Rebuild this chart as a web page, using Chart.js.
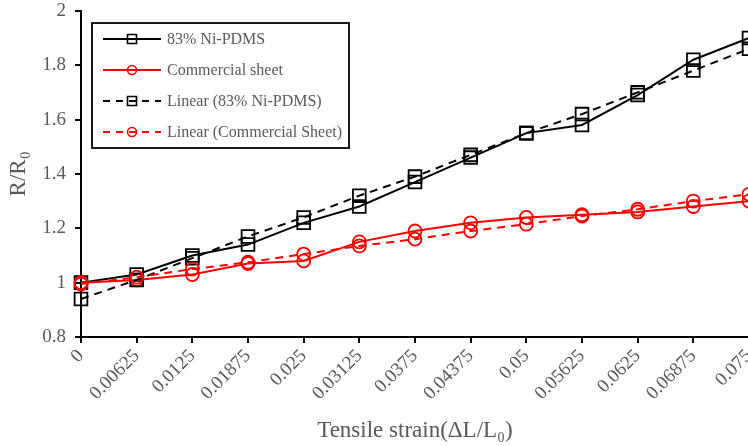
<!DOCTYPE html>
<html>
<head>
<meta charset="utf-8">
<script src="https://cdn.jsdelivr.net/npm/chart.js@4/dist/chart.umd.min.js"></script>
<style>
  html, body { margin: 0; padding: 0; background: #fff; overflow: hidden; }
  #wrap { width: 748px; height: 446px; }
</style>
</head>
<body>
<div id="wrap"><canvas id="c" width="748" height="446"></canvas></div>
<script>
// Tensile strain categories
const strains = ['0', '0.00625', '0.0125', '0.01875', '0.025', '0.03125', '0.0375',
                 '0.04375', '0.05', '0.05625', '0.0625', '0.06875', '0.075'];

// R/R0 measurements
const niPdms = [1.00, 1.03, 1.10, 1.14, 1.22, 1.28, 1.37, 1.46, 1.55, 1.58, 1.69, 1.82, 1.90];
const commercial = [1.00, 1.01, 1.03, 1.07, 1.08, 1.15, 1.19, 1.22, 1.24, 1.25, 1.26, 1.28, 1.30];

// Linear trend values
const niPdmsLinear = [0.94, 1.01, 1.09, 1.17, 1.24, 1.32, 1.39, 1.47, 1.55, 1.62, 1.70, 1.78, 1.86];
const commercialLinear = [0.995, 1.02, 1.05, 1.075, 1.105, 1.135, 1.16, 1.19, 1.215, 1.245, 1.27, 1.30, 1.325];

// Y axis range
const yMin = 0.8, yMax = 2, yStep = 0.2;

const seriesNames = ['83% Ni-PDMS', 'Commercial sheet', 'Linear (83% Ni-PDMS)', 'Linear (Commercial Sheet)'];

const FONT = "'Liberation Serif', 'Times New Roman', serif";
const TEXT = '#595959';
const PLOT_RIGHT = 749;

function series(label, data, color, shape, dashed, order) {
  return {
    label, data,
    borderColor: color,
    backgroundColor: 'rgba(0,0,0,0)',
    borderWidth: 2,
    borderDash: dashed ? [8, 6] : [],
    pointStyle: shape,
    pointRadius: shape === 'rect' ? 9 : 6.5,
    pointBorderWidth: 1.8,
    pointBorderColor: color,
    pointBackgroundColor: 'rgba(0,0,0,0)',
    tension: 0,
    clip: false,
    order
  };
}

// Let the category axis run all the way to the right edge of the canvas
const stretchX = {
  id: 'stretchX',
  afterLayout(chart) {
    const xs = chart.scales.x;
    chart.chartArea.right = PLOT_RIGHT;
    chart.chartArea.width = PLOT_RIGHT - chart.chartArea.left;
    xs.right = PLOT_RIGHT;
    xs.width = PLOT_RIGHT - xs.left;
    xs.configure();
    xs._labelItemsCache = null;
    xs._gridLineItems = null;
  }
};

// Boxed legend drawn inside the plot area
const boxLegend = {
  id: 'boxLegend',
  afterDraw(chart) {
    const ctx = chart.ctx;
    const x0 = 92, y0 = 23, w = 257, h = 125;
    ctx.save();
    ctx.fillStyle = '#fff';
    ctx.fillRect(x0, y0, w, h);
    ctx.strokeStyle = '#000';
    ctx.lineWidth = 1.8;
    ctx.strokeRect(x0, y0, w, h);
    const rows = [39, 70, 101, 132];
    const items = [
      { color: '#000', shape: 'rect', dashed: false },
      { color: '#ff0000', shape: 'circle', dashed: false },
      { color: '#000', shape: 'rect', dashed: true },
      { color: '#ff0000', shape: 'circle', dashed: true }
    ];
    items.forEach((it, i) => {
      const y = rows[i];
      ctx.strokeStyle = it.color;
      ctx.lineWidth = 2;
      ctx.setLineDash(it.dashed ? [7, 6] : []);
      ctx.beginPath();
      ctx.moveTo(103, y);
      ctx.lineTo(161, y);
      ctx.stroke();
      ctx.setLineDash([]);
      ctx.lineWidth = 1.6;
      ctx.beginPath();
      if (it.shape === 'rect') {
        ctx.rect(132 - 4.5, y - 4.5, 9, 9);
      } else {
        ctx.arc(132, y, 4.5, 0, Math.PI * 2);
      }
      ctx.stroke();
      ctx.fillStyle = TEXT;
      ctx.font = '16px ' + FONT;
      ctx.textBaseline = 'middle';
      ctx.textAlign = 'left';
      ctx.fillText(seriesNames[i], 167, y + 1);
    });
    ctx.restore();
  }
};

new Chart(document.getElementById('c'), {
  type: 'line',
  data: {
    labels: strains,
    datasets: [
      series(seriesNames[0], niPdms, '#000', 'rect', false, 3),
      series(seriesNames[1], commercial, '#ff0000', 'circle', false, 2),
      series(seriesNames[2], niPdmsLinear, '#000', 'rect', true, 1),
      series(seriesNames[3], commercialLinear, '#ff0000', 'circle', true, 0)
    ]
  },
  options: {
    responsive: false,
    animation: false,
    devicePixelRatio: 1,
    layout: { padding: { left: 0, right: 0, top: 10, bottom: 0 } },
    plugins: { legend: { display: false }, tooltip: { enabled: false } },
    scales: {
      x: {
        type: 'category',
        offset: false,
        grid: { display: true, drawOnChartArea: false, drawTicks: true, tickLength: 6, color: '#000', lineWidth: 2 },
        border: { display: true, color: '#000', width: 2 },
        ticks: {
          autoSkip: false, minRotation: 45, maxRotation: 45, padding: 2,
          color: TEXT, font: { family: FONT, size: 19 }
        },
        title: {
          display: true, text: 'Tensile strain(\u0394L/L\u2080)', color: TEXT,
          font: { family: FONT, size: 23 }, padding: { top: 0, bottom: 1 }
        },
        afterFit(scale) {
          scale.height = 109;
          scale.paddingLeft = 0;
          scale.paddingRight = 0;
        }
      },
      y: {
        min: yMin, max: yMax,
        grid: { display: true, drawOnChartArea: false, drawTicks: true, tickLength: 6, color: '#000', lineWidth: 2 },
        border: { display: true, color: '#000', width: 2 },
        ticks: {
          stepSize: yStep, padding: 9, color: TEXT,
          font: { family: FONT, size: 19 },
          callback: v => String(+v.toFixed(1))
        },
        title: {
          display: true, text: 'R/R\u2080', color: TEXT,
          font: { family: FONT, size: 23 }, padding: { top: 5, bottom: 0 }
        },
        afterFit(scale) {
          scale.width = 81;
          scale.paddingTop = 0;
          scale.paddingBottom = 0;
        }
      }
    }
  },
  plugins: [stretchX, boxLegend]
});
</script>
</body>
</html>
